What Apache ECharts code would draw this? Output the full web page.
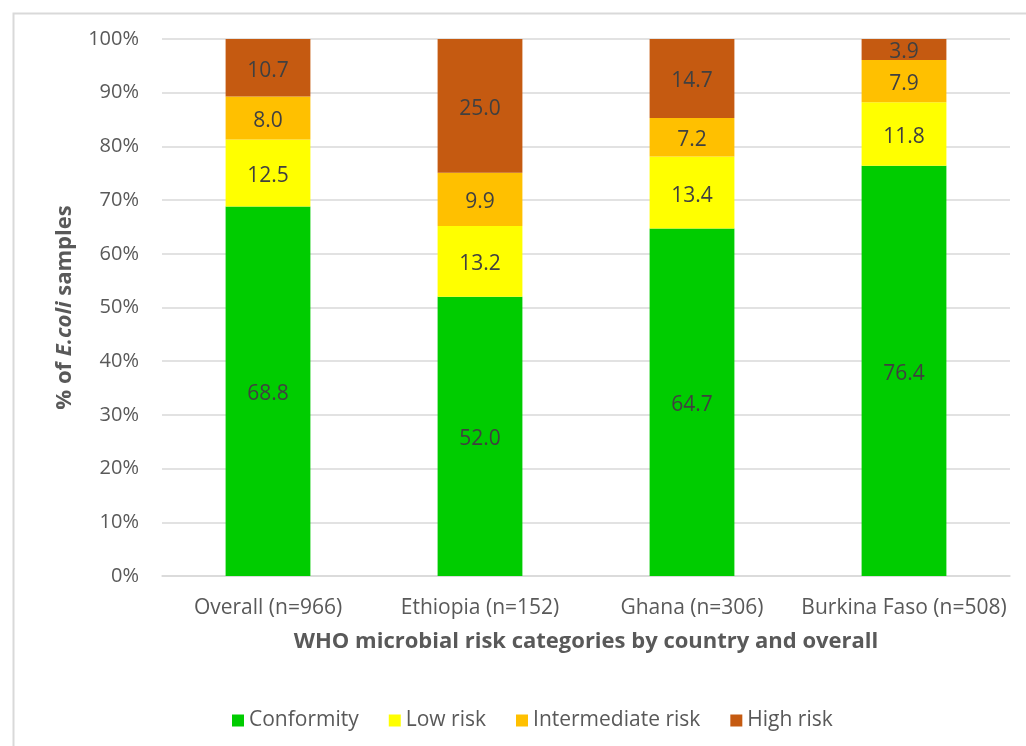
<!DOCTYPE html>
<html><head><meta charset="utf-8">
<script src="https://cdn.jsdelivr.net/npm/echarts@6/dist/echarts.min.js"></script>
<style>html,body{margin:0;padding:0;background:#fff}#c{width:1026px;height:746px}</style>
</head><body><div id="c"></div>
<script>
const categories = ['Overall (n=966)', 'Ethiopia (n=152)', 'Ghana (n=306)', 'Burkina Faso (n=508)'];
const seriesNames = ['Conformity', 'Low risk', 'Intermediate risk', 'High risk'];
const conformity = [68.8, 52.0, 64.7, 76.4];
const lowRisk = [12.5, 13.2, 13.4, 11.8];
const intermediateRisk = [8.0, 9.9, 7.2, 7.9];
const highRisk = [10.7, 25.0, 14.7, 3.9];
const yTicks = [0, 10, 20, 30, 40, 50, 60, 70, 80, 90, 100];
const colors = ['#00CC00', '#FFFF00', '#FFC000', '#C55A11'];
const FONT = 'Open Sans';
const values = [conformity, lowRisk, intermediateRisk, highRisk];

const chart = echarts.init(document.getElementById('c'), null, {renderer: 'canvas'});
chart.setOption({
  animation: false,
  backgroundColor: '#fff',
  textStyle: {fontFamily: FONT},
  graphic: [{
    type: 'rect', left: 11, top: 11, silent: true,
    shape: {width: 1100, height: 800},
    style: {fill: 'none', stroke: '#d9d9d9', lineWidth: 2}
  }],
  grid: {left: 162, right: 16, top: 39, bottom: 170, containLabel: false},
  legend: {
    data: seriesNames, left: 227, top: 705, itemWidth: 12, itemHeight: 12, itemGap: 30,
    icon: 'rect',
    textStyle: {fontFamily: FONT, fontSize: 21, color: '#595959'}
  },
  xAxis: {
    type: 'category', data: categories,
    axisLine: {lineStyle: {color: '#d9d9d9', width: 1.5}},
    axisTick: {show: false},
    axisLabel: {fontFamily: FONT, fontSize: 21, color: '#595959', margin: 22, interval: 0},
    name: 'WHO microbial risk categories by country and overall',
    nameLocation: 'middle', nameGap: 55,
    nameTextStyle: {fontFamily: FONT, fontSize: 22, fontWeight: 'bold', color: '#595959'}
  },
  yAxis: {
    type: 'value', min: 0, max: 100, interval: 10,
    axisLine: {show: false}, axisTick: {show: false},
    splitLine: {lineStyle: {color: '#d9d9d9', width: 1.5}},
    axisLabel: {fontFamily: FONT, fontSize: 20, color: '#595959', margin: 23, padding: [5, 0, 0, 0],
      formatter: v => yTicks.includes(v) ? v + '%' : ''},
    name: '{b|% of }{i|E.coli}{b| samples}',
    nameLocation: 'middle', nameGap: 86, nameRotate: 90,
    nameTextStyle: {
      rich: {
        b: {fontFamily: FONT, fontSize: 22, fontWeight: 'bold', color: '#595959'},
        i: {fontFamily: FONT, fontSize: 22, fontWeight: 'bold', fontStyle: 'italic', color: '#595959'}
      }
    }
  },
  series: seriesNames.map((n, i) => ({
    name: n, type: 'bar', stack: 'total', barWidth: '40%',
    data: values[i],
    itemStyle: {color: colors[i]},
    label: {show: true, position: 'inside', fontFamily: FONT, fontSize: 21, color: '#404040',
      offset: [0, 3],
      formatter: p => p.value.toFixed(1)}
  }))
});
</script></body></html>
